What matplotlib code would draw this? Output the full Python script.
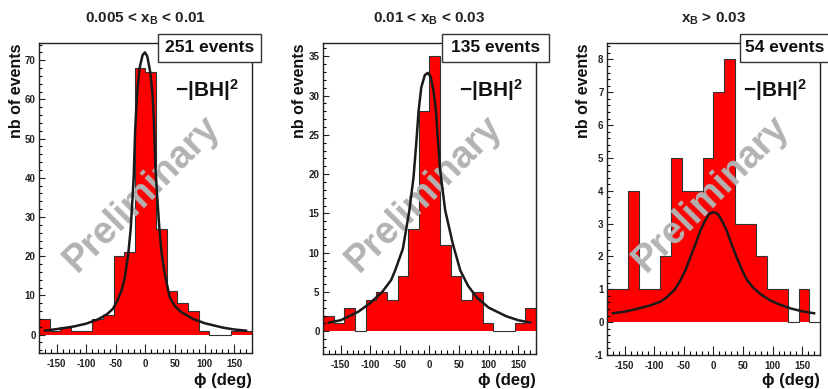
import numpy as np
import matplotlib
matplotlib.use("Agg")
import matplotlib.pyplot as plt
from matplotlib.patches import Rectangle
from matplotlib.ticker import MultipleLocator

plt.rcParams["font.family"] = ["Liberation Sans", "DejaVu Sans"]
plt.rcParams["font.weight"] = "bold"
plt.rcParams["mathtext.fontset"] = "custom"
plt.rcParams["mathtext.rm"] = "Liberation Sans:bold"
plt.rcParams["mathtext.bf"] = "Liberation Sans:bold"
plt.rcParams["mathtext.it"] = "Liberation Sans:bold"
plt.rcParams["mathtext.default"] = "bf"
plt.rcParams["axes.unicode_minus"] = False

# 20 bins of 18 degrees in phi
bin_edges = np.arange(-180, 181, 18)

titles = ["0.005 < x$_{B}$ < 0.01", "0.01 < x$_{B}$ < 0.03", "x$_{B}$ > 0.03"]
n_events = ["251 events", "135 events", "54 events"]

counts_1 = [4, 1, 2, 1, 1, 4, 5, 20, 21, 68, 67, 27, 11, 8, 6, 1, 0, 0, 1, 1]
counts_2 = [2, 1, 3, 0, 4, 5, 4, 7, 13, 28, 35, 11, 7, 4, 5, 1, 0, 0, 1, 3]
counts_3 = [1, 1, 4, 1, 1, 2, 5, 4, 4, 5, 7, 8, 3, 3, 2, 1, 1, 0, 1, 0]

# |BH|^2 curve
bh_phi_1 = [-170, -140, -120, -100, -80, -65, -55, -48, -40, -35, -29, -25, -21.5,
            -20, -17.5, -14, -10, -5, -1, 3, 8, 12, 14, 17, 19, 23, 27, 32, 36, 41,
            50, 60, 80, 100, 130, 150, 170]
bh_val_1 = [1.0, 1.6, 2.1, 2.8, 3.9, 5.2, 6.6, 8.5, 11.5, 14.5, 20.8, 27, 36,
            40, 52, 62, 68, 71.3, 72, 71, 67, 61, 55, 42, 37, 28, 21, 16, 13, 9.5,
            7.2, 5.8, 4.0, 2.9, 1.8, 1.3, 1.0]

bh_phi_2 = [-170, -150, -120, -100, -80, -65, -58, -45, -34, -27, -22.5, -18.5,
            -14, -8, -3, 2, 7, 11, 14, 18, 26.5, 39.5, 52, 65, 80, 100, 130, 150, 170]
bh_val_2 = [1.1, 1.4, 2.5, 3.6, 5.0, 6.5, 7.75, 10.5, 15.4, 19.6, 23.8, 28,
            31, 32.6, 32.9, 32.4, 30.5, 28, 24.5, 20.5, 15.4, 11.1, 7.75, 5.8, 4.3,
            3.0, 1.9, 1.4, 1.1]

bh_phi_3 = [-170, -150, -130, -107, -90, -79, -65, -56, -47, -39, -30, -22, -14,
            -7, 0, 7, 14, 22, 30, 39, 48, 56, 67, 79, 96, 110, 130, 150, 170]
bh_val_3 = [0.27, 0.32, 0.4, 0.51, 0.62, 0.76, 1.0, 1.27, 1.6, 1.98, 2.4, 2.8, 3.1,
            3.3, 3.35, 3.3, 3.1, 2.8, 2.4, 1.98, 1.6, 1.3, 1.05, 0.86, 0.66, 0.55,
            0.42, 0.33, 0.27]

W, H = 829, 389
fig = plt.figure(figsize=(W / 100, H / 100), dpi=100)


def fx(px):
    return px / W


def fy(py):
    return 1 - py / H


panels = [
    dict(box=(39, 252, 43, 353), ylim=(-4.7, 74.4), major=10, minor=2,
         counts=counts_1, phi=bh_phi_1, val=bh_val_1, ylab_x=17, ebox=(158, 261)),
    dict(box=(323, 536, 43, 354), ylim=(-2.9, 36.7), major=5, minor=1,
         counts=counts_2, phi=bh_phi_2, val=bh_val_2, ylab_x=300, ebox=(442, 549)),
    dict(box=(607, 820, 43, 355), ylim=(-1.0, 8.5), major=1, minor=0.2,
         counts=counts_3, phi=bh_phi_3, val=bh_val_3, ylab_x=584, ebox=(740, 831)),
]

for i, p in enumerate(panels):
    l, r, t, b = p["box"]
    ax = fig.add_axes([fx(l), fy(b), fx(r - l), (b - t) / H])
    ax.stairs(p["counts"], bin_edges, fill=True, color="#ff0000", zorder=1)
    ax.stairs(p["counts"], bin_edges, color="#333333", lw=0.8, zorder=1.5)
    ax.plot(p["phi"], p["val"], color="#1a1a1a", lw=1.8, zorder=4)

    ax.set_xlim(-180, 180)
    ax.set_ylim(*p["ylim"])
    ax.xaxis.set_major_locator(MultipleLocator(50))
    ax.xaxis.set_minor_locator(MultipleLocator(10))
    ax.yaxis.set_major_locator(MultipleLocator(p["major"]))
    ax.yaxis.set_minor_locator(MultipleLocator(p["minor"]))
    ax.tick_params(axis="x", which="major", direction="in", length=6.5, width=0.8,
                   labelsize=7, pad=4, colors="#222222")
    ax.tick_params(axis="x", which="minor", direction="in", length=3, width=0.8)
    ax.tick_params(axis="y", which="major", direction="in", length=4, width=0.8,
                   labelsize=7, pad=2.5, colors="#222222")
    ax.tick_params(axis="y", which="minor", direction="in", length=2, width=0.8)
    for lab in ax.get_xticklabels() + ax.get_yticklabels():
        lab.set_fontweight("bold")
    for s in ax.spines.values():
        s.set_linewidth(1.0)
        s.set_color("#222222")

    cx = {0: 142, 1: 424, 2: 711}[i]
    ax.text(fx(cx), fy(194), "Preliminary", transform=fig.transFigure, rotation=45,
            rotation_mode="anchor", ha="center", va="center", fontsize=27,
            fontweight="bold", color="#b3b3b3", zorder=3)

    ax.text(fx(r - 77), fy(97), "−|BH|$^{2}$", transform=fig.transFigure,
            ha="left", va="baseline", fontsize=15, fontweight="bold",
            color="#111111", zorder=5)

    fig.text(fx((l + r) / 2), fy(19), titles[i], ha="center", va="center",
             fontsize=11, fontweight="bold", color="#222222")
    fig.text(fx(p["ylab_x"]), fy(t), "nb of events", rotation=90, ha="center",
             va="top", fontsize=11.5, fontweight="bold", color="#111111")
    fig.text(fx(r), fy(380), "ϕ (deg)", ha="right", va="center", fontsize=12,
             fontweight="bold", color="#111111")

    bl, br = p["ebox"]
    fig.add_artist(Rectangle((fx(bl), fy(62)), fx(br - bl), 28 / H,
                             transform=fig.transFigure, facecolor="white",
                             edgecolor="#333333", lw=1.0, zorder=10))
    fig.text(fx((bl + br) / 2) if i < 2 else fx(785), fy(48), n_events[i],
             ha="center", va="center", fontsize=12.5, fontweight="bold",
             color="#111111", zorder=11)

fig.savefig("out.png", dpi=100)
